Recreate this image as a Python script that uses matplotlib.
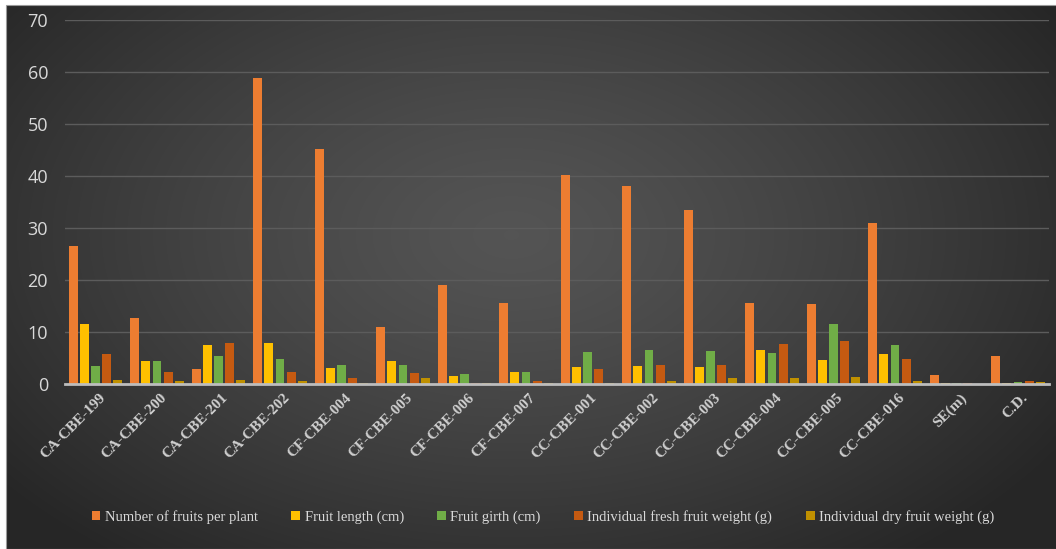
import numpy as np
import matplotlib
matplotlib.use("Agg")
import matplotlib.pyplot as plt
from matplotlib.patches import Rectangle


W, H = 1056, 549

genotypes = [
    "CA-CBE-199", "CA-CBE-200", "CA-CBE-201", "CA-CBE-202",
    "CF-CBE-004", "CF-CBE-005", "CF-CBE-006", "CF-CBE-007",
    "CC-CBE-001", "CC-CBE-002", "CC-CBE-003", "CC-CBE-004",
    "CC-CBE-005", "CC-CBE-016", "SE(m)", "C.D.",
]
fruits_per_plant = [26.5, 12.6, 2.8, 58.8, 45.1, 11.0, 19.1, 15.5,
                    40.1, 38.0, 33.5, 15.5, 15.3, 31.0, 1.7, 5.3]
fruit_length = [11.5, 4.4, 7.5, 7.8, 3.0, 4.4, 1.5, 2.4,
                3.3, 3.5, 3.3, 6.6, 4.6, 5.7, 0.1, 0.2]
fruit_girth = [3.5, 4.4, 5.4, 4.8, 3.7, 3.7, 1.9, 2.4,
               6.2, 6.6, 6.4, 5.9, 11.5, 7.5, 0.15, 0.4]
fresh_weight = [5.7, 2.4, 7.8, 2.4, 1.1, 2.2, 0.25, 0.5,
                2.9, 3.7, 3.7, 7.6, 8.2, 4.8, 0.1, 0.6]
dry_weight = [0.7, 0.6, 0.8, 0.6, 0.1, 1.1, 0.1, 0.1,
              0.25, 0.6, 1.1, 1.2, 1.4, 0.6, 0.05, 0.4]

series = [
    ("Number of fruits per plant", fruits_per_plant, "#ED7D31"),
    ("Fruit length (cm)", fruit_length, "#FFC000"),
    ("Fruit girth (cm)", fruit_girth, "#70AD47"),
    ("Individual fresh fruit weight (g)", fresh_weight, "#C55A11"),
    ("Individual dry fruit weight (g)", dry_weight, "#BF9000"),
]


def radial_background(fig):
    bg = fig.add_axes([7 / W, 0, 1 - 7 / W, 1 - 6 / H], zorder=-10)
    ny, nx = 300, 600
    yy, xx = np.mgrid[0:ny, 0:nx]
    cx, cy = 0.48 * nx, 0.42 * ny
    r = np.sqrt(((xx - cx) / (0.62 * nx)) ** 2 + ((yy - cy) / (0.75 * ny)) ** 2)
    r = np.clip(r, 0, 1)
    light, dark = 0.33, 0.15
    v = light - (light - dark) * r ** 1.3
    img = np.dstack([v, v, v])
    bg.imshow(img, aspect="auto", extent=[0, 1, 0, 1], interpolation="bicubic")
    bg.set_xlim(0, 1)
    bg.set_ylim(0, 1)
    bg.axis("off")
    fig.add_artist(Rectangle((7 / W - 0.0008, 0), 1, 1 - 6 / H + 0.001,
                             transform=fig.transFigure, fill=False,
                             edgecolor="#9a9a9a", linewidth=0.8, zorder=-9))


fig = plt.figure(figsize=(W / 100, H / 100), dpi=100, facecolor="white")
radial_background(fig)

ax = fig.add_axes([64.75 / W, 1 - 384 / H, (1048.75 - 64.75) / W, (384 - 20) / H])
ax.patch.set_alpha(0)

x = np.arange(len(genotypes))
step = 0.182
bw = 0.146
for i, (label, vals, color) in enumerate(series):
    ax.bar(x + (i - 2) * step, vals, width=bw, color=color, label=label, zorder=3)

ax.set_xlim(-0.5, len(genotypes) - 0.5)
ax.set_ylim(0, 70)
ax.set_yticks(range(0, 71, 10))
ax.yaxis.grid(True, color="#5c5c5c", linewidth=1.0, zorder=0)
for side in ["top", "right", "left"]:
    ax.spines[side].set_visible(False)
ax.spines["bottom"].set_color("#bdbdbd")
ax.spines["bottom"].set_linewidth(2.0)
ax.spines["bottom"].set_zorder(4)
ax.tick_params(axis="y", length=0, pad=12, labelcolor="#d9d9d9", labelsize=13)
ax.tick_params(axis="x", length=0, pad=5)
for lab in ax.get_yticklabels():
    lab.set_fontfamily("Open Sans")

ax.set_xticks(x + 0.05)
ax.set_xticklabels(genotypes, rotation=45, ha="right", va="top",
                   rotation_mode="anchor", color="#cfcfcf",
                   fontfamily="Liberation Serif", fontweight="bold", fontsize=11)

leg = fig.legend(loc="center", bbox_to_anchor=(543 / W, 1 - 517 / H), ncol=5,
                 frameon=False, handlelength=0.6, handleheight=0.6,
                 handletextpad=0.3, columnspacing=2.3,
                 prop={"family": "Liberation Serif", "size": 10.5})
for t in leg.get_texts():
    t.set_color("#d9d9d9")

fig.savefig("out.png", dpi=100, facecolor=fig.get_facecolor())
